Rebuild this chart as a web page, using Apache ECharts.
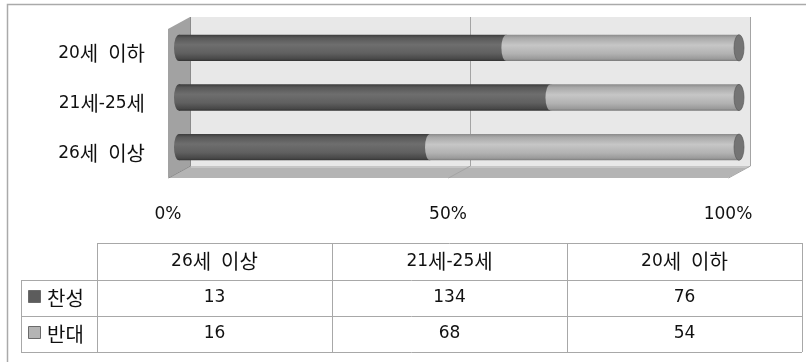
<!DOCTYPE html>
<html>
<head>
<meta charset="utf-8">
<script src="https://cdn.jsdelivr.net/npm/echarts@6/dist/echarts.min.js"></script>
<style>
  html, body { margin: 0; padding: 0; background: #fff; }
  #chart { width: 806px; height: 362px; }
</style>
</head>
<body>
<div id="chart"></div>
<script>
// Survey counts per age group
const categories = ['26세 이상', '21세-25세', '20세 이하'];
const agree = [13, 134, 76];
const oppose = [16, 68, 54];
const seriesNames = ['찬성', '반대'];
const axisTicks = [0, 50, 100];

const FONT = "'DejaVu Sans', 'Noto Sans CJK KR', sans-serif";
const DX = 22, DY = 12;          // depth of the 3D box
const GRID = { left: 168, width: 560, top: 29, height: 149 };

// shares in percent (100% stacked)
const agreePct = agree.map((v, i) => v / (v + oppose[i]) * 100);

// mixed Latin / Hangul labels: Hangul set a little larger, wider word gaps
const RICH = {
  d: { fontSize: 17, fontFamily: "'DejaVu Sans'", color: '#111', fill: '#111' },
  k: { fontSize: 20, fontFamily: "'Noto Sans CJK KR'", color: '#111', fill: '#111' },
  s: { fontSize: 17, fontFamily: "'DejaVu Sans'", width: 10 }
};
function toRich(str) {
  const runs = [];
  for (const ch of String(str)) {
    const t = ch === ' ' ? 's' : (/[\uac00-\ud7a3]/.test(ch) ? 'k' : 'd');
    if (runs.length && runs[runs.length - 1].t === t && t !== 's') runs[runs.length - 1].s += ch;
    else runs.push({ t: t, s: ch });
  }
  return runs.map(r => '{' + r.t + '|' + r.s + '}').join('');
}

const darkGrad = () => new echarts.graphic.LinearGradient(0, 0, 0, 1, [
  { offset: 0, color: '#3c3c3c' },
  { offset: 0.12, color: '#585858' },
  { offset: 0.38, color: '#6e6e6e' },
  { offset: 0.7, color: '#606060' },
  { offset: 0.92, color: '#484848' },
  { offset: 1, color: '#333333' }
]);
const lightGrad = () => new echarts.graphic.LinearGradient(0, 0, 0, 1, [
  { offset: 0, color: '#8a8a8a' },
  { offset: 0.12, color: '#a8a8a8' },
  { offset: 0.4, color: '#c6c6c6' },
  { offset: 0.72, color: '#b2b2b2' },
  { offset: 0.92, color: '#9a9a9a' },
  { offset: 1, color: '#7a7a7a' }
]);

function ellipse(cx, cy, rx, ry, style) {
  return {
    type: 'circle',
    shape: { cx: 0, cy: 0, r: ry },
    x: cx, y: cy, scaleX: rx / ry,
    style: style
  };
}

// back wall, side wall and floor of the 3D plot box
function renderWalls(params, api) {
  const cs = params.coordSys;
  const L = cs.x, R = cs.x + cs.width, T = cs.y, B = cs.y + cs.height;
  const children = [
    { type: 'polygon', shape: { points: [[L + DX, T - DY], [R + DX, T - DY], [R + DX, B - DY], [L + DX, B - DY]] },
      style: { fill: '#e8e8e8' } },
    { type: 'polygon', shape: { points: [[L, T], [L + DX, T - DY], [L + DX, B - DY], [L, B]] },
      style: { fill: '#a2a2a2' } },
    { type: 'polygon', shape: { points: [[L, B], [L + DX, B - DY], [R + DX, B - DY], [R, B]] },
      style: { fill: '#b4b4b4' } },
    { type: 'line', shape: { x1: L + DX + 1, y1: B - DY + 1, x2: R + DX - 1, y2: B - DY + 1 },
      style: { stroke: '#d8d8d8', lineWidth: 1 } }
  ];
  axisTicks.forEach(v => {
    const x = Math.round(api.coord([v, 0])[0]) + 0.5;
    children.push({ type: 'polyline',
      shape: { points: [[x + DX, T - DY], [x + DX, B - DY], [x, B]] },
      style: { stroke: v === 0 ? '#8a8a8a' : '#a4a4a4', lineWidth: 1, fill: null } });
  });
  return { type: 'group', children: children };
}

// one cylinder segment: [categoryIndex, start%, end%]
function makeCylinder(gradFn, isLast) {
  return function (params, api) {
    const cat = api.value(0);
    const x0 = api.coord([api.value(1), cat])[0] + DX / 2;
    const x1 = api.coord([api.value(2), cat])[0] + DX / 2;
    const cy = api.coord([0, cat])[1] - DY / 2;
    const h = api.size([0, 1])[1] * 0.53;
    const rx = 5;
    const children = [
      ellipse(x0, cy, rx, h / 2, { fill: gradFn() }),
      { type: 'rect', shape: { x: x0, y: cy - h / 2, width: x1 - x0, height: h }, style: { fill: gradFn() } }
    ];
    if (isLast) {
      children.push(ellipse(x1, cy, rx, h / 2, { fill: '#747474', stroke: '#5a5a5a', lineWidth: 1 }));
    }
    return { type: 'group', children: children };
  };
}

// data table under the chart
const TBL = { left: 21, colX: [97, 332, 567, 802], rowY: [243, 280, 316, 352] };
const lineStyle = { stroke: '#a8a8a8', lineWidth: 1 };
const graphics = [
  // outer frame
  { type: 'polyline', shape: { points: [[7.5, 362], [7.5, 4.5], [806, 4.5]] }, style: { stroke: '#aaaaaa', lineWidth: 1.5, fill: null } },
  { type: 'line', shape: { x1: TBL.colX[0], y1: TBL.rowY[0] + 0.5, x2: TBL.colX[3], y2: TBL.rowY[0] + 0.5 }, style: lineStyle }
];
TBL.rowY.slice(1).forEach(y => {
  graphics.push({ type: 'line', shape: { x1: TBL.left, y1: y + 0.5, x2: TBL.colX[3], y2: y + 0.5 }, style: lineStyle });
});
graphics.push({ type: 'line', shape: { x1: TBL.left + 0.5, y1: TBL.rowY[1], x2: TBL.left + 0.5, y2: TBL.rowY[3] }, style: lineStyle });
TBL.colX.forEach(x => {
  graphics.push({ type: 'line', shape: { x1: x + 0.5, y1: TBL.rowY[0], x2: x + 0.5, y2: TBL.rowY[3] }, style: lineStyle });
});
const cellText = (text, x, y, align) => ({
  type: 'text', x: x, y: y,
  style: { text: toRich(text), rich: RICH, font: '17px ' + FONT, fill: '#111', align: align || 'center', verticalAlign: 'middle' }
});
categories.forEach((c, i) => {
  const cx = (TBL.colX[i] + TBL.colX[i + 1]) / 2;
  graphics.push(cellText(c, cx, (TBL.rowY[0] + TBL.rowY[1]) / 2));
  graphics.push(cellText(agree[i], cx, (TBL.rowY[1] + TBL.rowY[2]) / 2));
  graphics.push(cellText(oppose[i], cx, (TBL.rowY[2] + TBL.rowY[3]) / 2));
});
const swatch = ['#5c5c5c', '#b4b4b4'];
seriesNames.forEach((n, k) => {
  const cy = (TBL.rowY[k + 1] + TBL.rowY[k + 2]) / 2;
  graphics.push({ type: 'rect', shape: { x: 28.5, y: cy - 7.5, width: 12, height: 12 },
    style: { fill: swatch[k], stroke: '#6a6a6a', lineWidth: 1 } });
  graphics.push(cellText(n, 47, cy, 'left'));
});

const chart = echarts.init(document.getElementById('chart'), null, { renderer: 'canvas' });
chart.setOption({
  animation: false,
  backgroundColor: '#ffffff',
  textStyle: { fontFamily: FONT },
  grid: GRID,
  xAxis: {
    type: 'value', min: 0, max: 100, interval: 50,
    axisLine: { show: false }, axisTick: { show: false }, splitLine: { show: false },
    axisLabel: { formatter: '{value}%', fontSize: 17, color: '#111', margin: 28, fontFamily: FONT }
  },
  yAxis: {
    type: 'category', data: categories,
    axisLine: { show: false }, axisTick: { show: false },
    axisLabel: { formatter: v => toRich(v), rich: RICH, fontSize: 17, color: '#111', margin: 23, fontFamily: FONT }
  },
  series: [
    { type: 'custom', name: 'walls', renderItem: renderWalls, data: [[0, 0]], silent: true, z: 1 },
    { type: 'custom', name: seriesNames[0], renderItem: makeCylinder(darkGrad, false),
      encode: { x: [1, 2], y: 0 }, z: 2,
      data: categories.map((c, i) => [i, 0, agreePct[i]]) },
    { type: 'custom', name: seriesNames[1], renderItem: makeCylinder(lightGrad, true),
      encode: { x: [1, 2], y: 0 }, z: 3,
      data: categories.map((c, i) => [i, agreePct[i], 100]) }
  ],
  graphic: graphics
});
</script>
</body>
</html>
